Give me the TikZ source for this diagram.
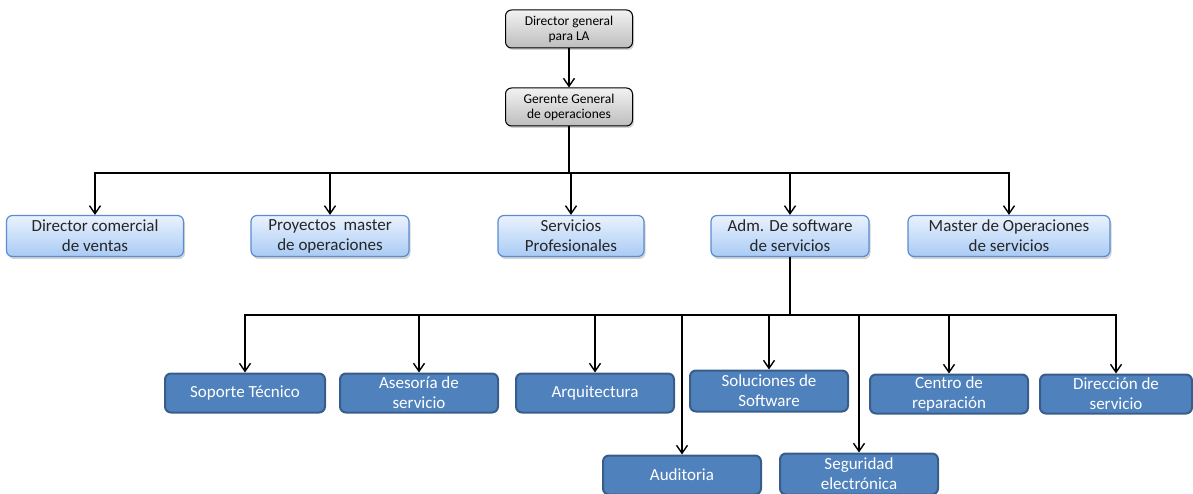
\documentclass[tikz,border=0pt]{standalone}
\usepackage{fontspec}
\setmainfont{Carlito}
\usetikzlibrary{arrows.meta,shadows}
\definecolor{topA}{HTML}{F2F2F2}
\definecolor{topB}{HTML}{BDBDBD}
\definecolor{midA}{HTML}{EAF2FD}
\definecolor{midB}{HTML}{A9CBF5}
\definecolor{midD}{HTML}{5B8BD0}
\definecolor{lowF}{HTML}{4F81BD}
\definecolor{lowD}{HTML}{385D8A}
\tikzset{
  x=1pt,y=-1pt,
  topbox/.style={draw=black,line width=1pt,rounded corners=6pt,top color=topA,bottom color=topB,
    minimum width=127pt,minimum height=38pt,align=center,font=\fontsize{13.5}{15}\selectfont,inner sep=1pt,
    drop shadow={opacity=0.35,shadow xshift=1.5pt,shadow yshift=-2pt}},
  midbox/.style={draw=midD,line width=1.2pt,rounded corners=6pt,top color=midA,bottom color=midB,
    minimum height=41pt,align=center,font=\fontsize{17}{20}\selectfont,text=black!85,inner sep=1pt,
    drop shadow={opacity=0.35,shadow xshift=1.5pt,shadow yshift=-2.5pt}},
  lowbox/.style={draw=lowD,line width=2pt,rounded corners=6pt,fill=lowF,
    minimum width=158pt,minimum height=39pt,align=center,font=\fontsize{17}{20}\selectfont,text=white,inner sep=1pt},
  arr/.style={line width=1.4pt,-{Straight Barb[length=8pt,width=11pt,line width=1.4pt]}},
  ln/.style={line width=1.4pt}
}
\begin{document}
\begin{tikzpicture}
\useasboundingbox (0,0) rectangle (1193,494);
\node[topbox] (dg) at (569,29) {Director general\\para LA};
\node[topbox] (gg) at (569,107) {Gerente General\\de operaciones};
\node[midbox,minimum width=177pt] (dcv) at (95,236) {Director comercial\\de ventas};
\node[midbox,minimum width=158pt] (pmo) at (330,236) {Proyectos\ \ master\\de operaciones};
\node[midbox,minimum width=146pt] (spr) at (571,236) {Servicios\\Profesionales};
\node[midbox,minimum width=158pt] (ads) at (790,236) {Adm. De software\\de servicios};
\node[midbox,minimum width=202pt] (mos) at (1009,236) {Master de Operaciones\\de servicios};
\node[lowbox,minimum width=160pt] (sop) at (245,393) {Soporte Técnico};
\node[lowbox] (ase) at (419,393) {Asesoría de\\servicio};
\node[lowbox] (arq) at (595,393) {Arquitectura};
\node[lowbox,minimum height=41pt] (sol) at (769,391) {Soluciones de\\Software};
\node[lowbox] (cen) at (949,394) {Centro de\\reparación};
\node[lowbox,minimum width=152pt] (dir) at (1116,394) {Dirección de\\servicio};
\node[lowbox] (aud) at (682,475) {Auditoria};
\node[lowbox,minimum height=41pt] (seg) at (859,474) {Seguridad\\electrónica};
\coordinate (b1) at (569,173);
\coordinate (b2) at (790,315);
\draw[arr] (dg.south) -- (gg.north);
\draw[ln] (gg.south) -- (b1);
\foreach \n in {dcv,pmo,spr,ads,mos} \draw[arr] (b1) -| (\n.north);
\draw[ln] (ads.south) -- (b2);
\foreach \n in {sop,ase,arq,aud,sol,seg,cen,dir} \draw[arr] (b2) -| (\n.north);
\end{tikzpicture}
\end{document}
